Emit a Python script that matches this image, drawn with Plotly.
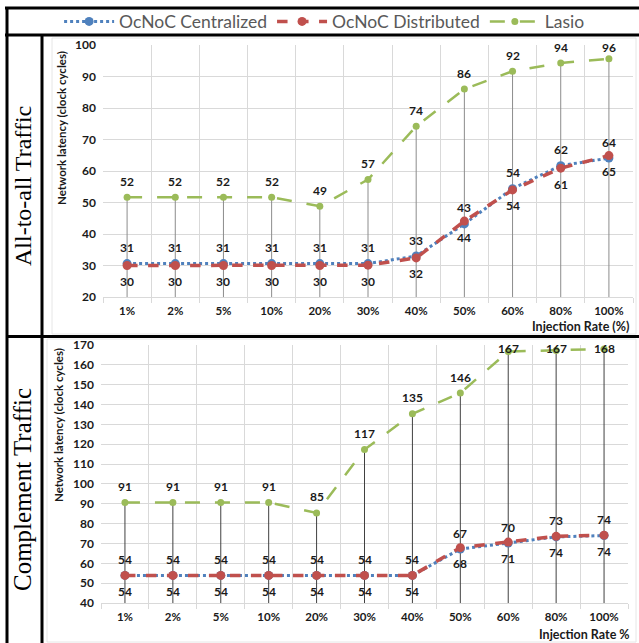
import plotly.graph_objects as go

# ---------------- data ----------------
categories = ["1%", "2%", "5%", "10%", "20%", "30%", "40%", "50%", "60%", "80%", "100%"]

a2a_centralized = [30.6, 30.6, 30.6, 30.6, 30.6, 30.6, 33.0, 43.2, 54.4, 61.7, 64.1]
a2a_distributed = [30.0, 30.0, 30.0, 30.0, 30.0, 30.1, 32.4, 44.1, 54.0, 60.9, 64.9]
a2a_lasio = [51.7, 51.7, 51.7, 51.7, 48.8, 57.3, 74.2, 86.0, 91.7, 94.3, 95.6]

comp_centralized = [53.9, 53.9, 53.9, 53.9, 53.9, 53.9, 53.9, 67.2, 70.2, 73.3, 74.0]
comp_distributed = [53.9, 53.9, 53.9, 53.9, 53.9, 53.9, 53.9, 67.9, 70.7, 73.6, 74.2]
comp_lasio = [90.7, 90.7, 90.7, 90.7, 85.4, 117.3, 135.3, 145.8, 166.7, 167.2, 168.0]

series_names = ["OcNoC Centralized", "OcNoC Distributed", "Lasio"]
panel_titles = ["All-to-all Traffic", "Complement Traffic"]
y_title = "Network latency (clock cycles)"
x_titles = ["Injection Rate (%)", "Injection Rate %"]
y_ranges = [(20, 100), (40, 170)]

# ---------------- style ----------------
W, H = 639, 643
BLUE, RED, GREEN = "#4F81BD", "#C0504D", "#9BBB59"
GRID = "#d9d9d9"
FONT = "Lato"


def px(x):
    return x / W


def py(y):
    return 1 - y / H


# plot areas in pixels: (left, right, top, bottom)
areas = [(103, 633, 45, 297), (101, 628, 345, 603)]
drop_colors = ["#8c8c8c", "#404040"]

fig = go.Figure()

panels = [
    (a2a_centralized, a2a_distributed, a2a_lasio),
    (comp_centralized, comp_distributed, comp_lasio),
]

annotations = []
for i, (cen, dis, las) in enumerate(panels):
    xa = "x" if i == 0 else "x2"
    ya = "y" if i == 0 else "y2"
    ymin, ymax = y_ranges[i]
    l, r, t, b = areas[i]
    ppu = (b - t) / (ymax - ymin)

    # drop lines
    dx, dy = [], []
    for k, c in enumerate(categories):
        top = max(cen[k], dis[k], las[k])
        dx += [c, c, None]
        dy += [top, ymin, None]
    fig.add_trace(go.Scatter(x=dx, y=dy, mode="lines", xaxis=xa, yaxis=ya,
                             line=dict(color=drop_colors[i], width=1),
                             showlegend=False, hoverinfo="skip"))

    specs = [
        (cen, BLUE, "dot", 3, 9, 1),
        (dis, RED, "dash", 3.5, 9, -1),
        (las, GREEN, "longdash", 2.5, 7, 1),
    ]
    for s, (vals, col, dash, lw, ms, side) in enumerate(specs):
        fig.add_trace(go.Scatter(
            x=categories, y=vals, mode="lines+markers", name=series_names[s],
            xaxis=xa, yaxis=ya, showlegend=(i == 0),
            line=dict(color=col, width=lw, dash=dash),
            marker=dict(color=col, size=ms, symbol="circle"),
        ))
        for k, c in enumerate(categories):
            v = vals[k]
            if side > 0:
                shift = min(16, (ymax - v) * ppu - 3)
            else:
                shift = -16
            annotations.append(dict(
                x=c, y=v, xref=xa, yref=ya, text=str(round(v)), showarrow=False,
                xanchor="center", yanchor="middle", yshift=shift,
                font=dict(family=FONT, size=12, color="#1a1a1a", weight="bold"),
            ))

    # axis titles
    ytx, yty = (62, 128) if i == 0 else (58, 425)
    annotations.append(dict(x=px(ytx), y=py(yty), xref="paper", yref="paper", text=y_title,
                            textangle=-90, showarrow=False, xanchor="center", yanchor="middle",
                            font=dict(family=FONT, size=11.5, color="#1a1a1a", weight="bold")))
    xtx, xty = (631, 326) if i == 0 else (632, 634)
    annotations.append(dict(x=px(xtx), y=py(xty), xref="paper", yref="paper", text=x_titles[i],
                            xanchor="right", yanchor="middle", showarrow=False,
                            font=dict(family=FONT, size=12.5, color="#1a1a1a", weight="bold")))
    # panel labels
    ptx, pty, pfs = (23, 186, 24) if i == 0 else (23, 490, 25)
    annotations.append(dict(x=px(ptx), y=py(pty), xref="paper", yref="paper", text=panel_titles[i],
                            textangle=-90, showarrow=False, xanchor="center", yanchor="middle",
                            font=dict(family="Liberation Serif", size=pfs, color="#000000")))

axis_common_x = dict(type="category", tickson="boundaries", showgrid=True, gridcolor=GRID,
                     gridwidth=1, ticks="outside", ticklen=5, tickcolor=GRID, showline=True,
                     linecolor=GRID, linewidth=1, zeroline=False, ticklabelstandoff=3,
                     automargin=False, range=[-0.5, len(categories) - 0.5],
                     tickfont=dict(family=FONT, size=11.5, color="#1a1a1a", weight="bold"))
axis_common_y = dict(showgrid=True, gridcolor=GRID, gridwidth=1, dtick=10, ticks="",
                     showline=False, zeroline=False, ticklabelstandoff=6, automargin=False,
                     tickfont=dict(family=FONT, size=12, color="#1a1a1a", weight="bold"))

l0, r0, t0, b0 = areas[0]
l1, r1, t1, b1 = areas[1]

shapes = []
line_style = dict(color="black", width=3)
for (x0, y0, x1, y1) in [(5, 8, 639, 8), (5, 35, 639, 35), (7, 336.5, 639, 336.5),
                         (7, 8, 7, 643), (42, 35, 42, 643)]:
    shapes.append(dict(type="line", xref="paper", yref="paper",
                       x0=px(x0), y0=py(y0), x1=px(x1), y1=py(y1), line=line_style))
# light chart-area borders
for (x0, y0, x1, y1) in [(52, 38, 636, 334), (47, 339, 636, 642)]:
    shapes.append(dict(type="rect", xref="paper", yref="paper", layer="below",
                       x0=px(x0), y0=py(y1), x1=px(x1), y1=py(y0),
                       line=dict(color="#e6e6e6", width=1)))

fig.update_layout(
    width=W, height=H, margin=dict(l=0, r=0, t=0, b=0, pad=0, autoexpand=False),
    autosize=False,
    paper_bgcolor="white", plot_bgcolor="white",
    font=dict(family=FONT),
    xaxis=dict(domain=[px(l0), px(r0)], anchor="y", **axis_common_x),
    yaxis=dict(domain=[py(b0), py(t0)], anchor="x", range=list(y_ranges[0]), **axis_common_y),
    xaxis2=dict(domain=[px(l1), px(r1)], anchor="y2", **axis_common_x),
    yaxis2=dict(domain=[py(b1), py(t1)], anchor="x2", range=list(y_ranges[1]), **axis_common_y),
    legend=dict(orientation="h", x=0.508, xanchor="center", y=py(21.5), yanchor="middle",
                font=dict(family=FONT, size=17.5, color="#595959"), itemwidth=50,
                bgcolor="rgba(0,0,0,0)"),
    annotations=annotations,
    shapes=shapes,
    showlegend=True,
)

fig.write_html("out.html",
               config={"displayModeBar": False, "responsive": False},
               post_script="document.body.style.margin='0';document.body.style.overflow='hidden';"
                           "var gd=document.getElementById('{plot_id}');"
                           "gd.style.position='fixed';gd.style.top='0px';gd.style.left='0px';")
